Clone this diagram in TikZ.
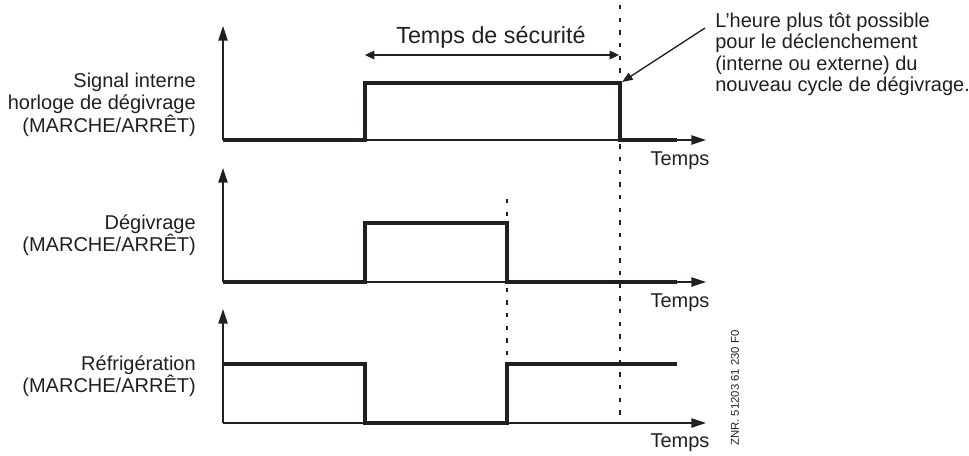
\documentclass[tikz,border=0pt]{standalone}
\usepackage{fontspec}
\setmainfont{Liberation Sans}
\usetikzlibrary{arrows.meta}
\definecolor{ink}{RGB}{35,31,32}
\begin{document}
\begin{tikzpicture}[x=0.75pt,y=-0.75pt,
  every node/.style={text=ink, inner sep=0pt},
  axis/.style={draw=ink, line width=1.1pt, -{Triangle[length=11pt,width=7pt]}},
  sig/.style={draw=ink, line width=2.6pt, line join=miter, line cap=butt},
  guide/.style={draw=ink, line width=1.1pt, dash pattern=on 3.2pt off 6.3pt},
  dim/.style={draw=ink, line width=0.9pt, {Triangle[length=7pt,width=6.5pt]}-{Triangle[length=7pt,width=6.5pt]}},
  pointer/.style={draw=ink, line width=1pt, -{Triangle[length=8pt,width=6pt]}},
  lbl/.style={font=\fontsize{15}{16.9}\selectfont, align=right, anchor=east},
  tlbl/.style={font=\fontsize{15}{16.9}\selectfont},
  note/.style={font=\fontsize{15}{16.1}\selectfont, align=left, anchor=west},
  title/.style={font=\fontsize{17.5}{20}\selectfont}]
\useasboundingbox (0,0) rectangle (969,455);

% guide lines (drawn first)
\coordinate (g1t) at (620,5);   \coordinate (g1b) at (620,423);
\coordinate (g2t) at (507,199); \coordinate (g2b) at (507,423);
\draw[guide] (g1t) -- (g1b);
\draw[guide] (g2t) -- (g2b);

% axes
\coordinate (o1) at (223,140); \coordinate (y1) at (223,26); \coordinate (x1) at (706,140);
\coordinate (o2) at (223,282); \coordinate (y2) at (223,168); \coordinate (x2) at (706,282);
\coordinate (o3) at (223,423); \coordinate (y3) at (223,309); \coordinate (x3) at (706,423);
\draw[axis] (o1) -- (y1);
\draw[axis] (o1) -- (x1);
\draw[axis] (o2) -- (y2);
\draw[axis] (o2) -- (x2);
\draw[axis] (o3) -- (y3);
\draw[axis] (o3) -- (x3);

% signals
\draw[sig] (223,140) -- (365,140) -- (365,83) -- (620,83) -- (620,140) -- (677,140);
\draw[sig] (223,282) -- (365,282) -- (365,223) -- (507,223) -- (507,282) -- (677,282);
\draw[sig] (223,364) -- (365,364) -- (365,423) -- (507,423) -- (507,364) -- (677,364);

% labels
\node[lbl] (l1) at (196,104.5) {Signal interne\\horloge de dégivrage\\(MARCHE/ARRÊT)};
\node[lbl] (l2) at (196,235) {Dégivrage\\(MARCHE/ARRÊT)};
\node[lbl] (l3) at (196,376) {Réfrigération\\(MARCHE/ARRÊT)};

\node[tlbl] (t1) at (680,161) {Temps};
\node[tlbl] (t2) at (680,303) {Temps};
\node[tlbl] (t3) at (680,443) {Temps};

% safety time
\node[title] (ts) at (491,37) {Temps de sécurité};
\coordinate (da) at (365,55); \coordinate (db) at (619,55);
\draw[dim] (da) -- (db);

% annotation
\node[note] (nt) at (715,54.5) {L'heure plus tôt possible\\pour le déclenchement\\(interne ou externe) du\\nouveau cycle de dégivrage.};
\coordinate (ps) at (705,28); \coordinate (pe) at (622,82);
\draw[pointer] (ps) -- (pe);

% reference
\node[font=\fontsize{8.5}{10}\selectfont, rotate=90] (znr) at (735,388) {ZNR. 51203 61 230 F0};
\end{tikzpicture}
\end{document}
